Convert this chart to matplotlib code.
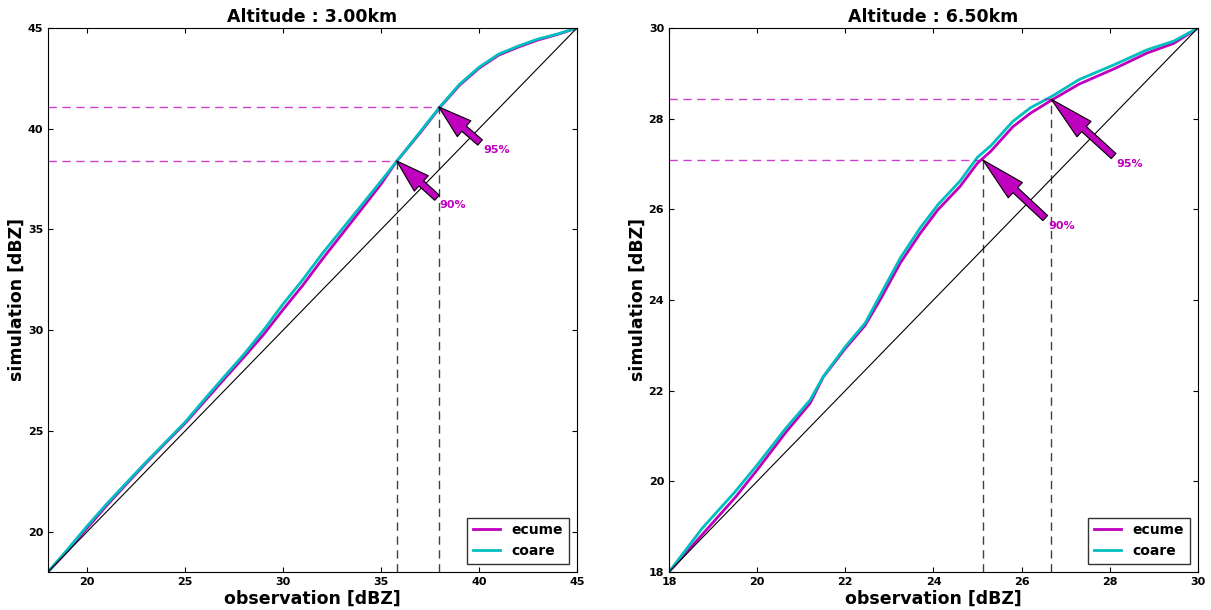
import matplotlib
matplotlib.use('Agg')
import matplotlib.pyplot as plt

# ----------------- Plot config --------------------------------------- #
plt.rc('font', size=8, weight='bold', family='DejaVu Sans')
plt.rc('axes', titlesize=12.5, titleweight='bold', labelsize=12.5, labelweight='bold')
plt.rc('xtick', direction='in', top=True, labelsize=8)
plt.rc('ytick', direction='in', right=True, labelsize=8)
plt.rc('legend', fontsize=10)

# ----------------- Data ---------------------------------------------- #
# Altitude 3.00 km
obs_3km = [18.0, 19.0, 20.0, 21.0, 22.0, 23.0, 24.0, 25.0, 26.0, 27.0, 28.0, 29.0,
           30.0, 31.0, 32.0, 33.0, 34.0, 35.0, 35.8, 37.0, 38.0, 39.0, 40.0, 41.0,
           42.0, 43.0, 44.0, 45.0]
coare_3km = [18.0, 19.12, 20.28, 21.38, 22.42, 23.45, 24.44, 25.44, 26.58, 27.70, 28.80,
             30.00, 31.30, 32.50, 33.80, 35.00, 36.20, 37.40, 38.38, 39.85, 41.08, 42.20,
             43.05, 43.70, 44.10, 44.45, 44.70, 45.0]
ecume_3km = [18.0, 19.05, 20.18, 21.30, 22.36, 23.40, 24.40, 25.38, 26.48, 27.58, 28.66,
             29.78, 31.02, 32.22, 33.52, 34.76, 36.00, 37.25, 38.38, 39.80, 41.05, 42.15,
             43.00, 43.65, 44.05, 44.40, 44.68, 45.0]
pct_obs_3km = [35.8, 37.95]
pct_sim_3km = [38.4, 41.08]
pct_txt_3km = [(38.0, 36.45), (40.2, 39.2)]

# Altitude 6.50 km
obs_6km = [18.0, 18.75, 19.5, 20.0, 20.65, 21.2, 21.5, 22.0, 22.45, 22.8, 23.25, 23.7,
           24.1, 24.6, 25.0, 25.3, 25.8, 26.2, 26.7, 27.3, 28.1, 28.85, 29.45, 30.0]
coare_6km = [18.0, 18.96, 19.77, 20.36, 21.17, 21.79, 22.31, 22.97, 23.49, 24.12, 24.93,
             25.59, 26.10, 26.62, 27.15, 27.40, 27.94, 28.24, 28.50, 28.86, 29.19, 29.52,
             29.71, 30.0]
ecume_6km = [18.0, 18.82, 19.64, 20.25, 21.08, 21.72, 22.30, 22.93, 23.44, 24.02, 24.82,
             25.47, 25.99, 26.50, 27.02, 27.28, 27.82, 28.12, 28.42, 28.76, 29.10, 29.45,
             29.66, 30.0]
pct_obs_6km = [25.12, 26.67]
pct_sim_6km = [27.09, 28.43]
pct_txt_6km = [(26.6, 25.75), (28.15, 27.12)]

pct_labels = ['90%', '95%']


def qq_panel(ax, obs, ecume, coare, lim, ticks, pct_obs, pct_sim, pct_txt, title,
             head_len=18):
    """Draw one quantile-quantile panel."""
    ax.plot(obs, ecume, color='m', lw=2, label='ecume')
    ax.plot(obs, coare, color='c', lw=2, label='coare')
    ax.plot(lim, lim, color='k', lw=0.8)

    for xo, ys, xyt, lab in zip(pct_obs, pct_sim, pct_txt, pct_labels):
        ax.plot([lim[0], xo], [ys, ys], color='m', alpha=0.75, lw=1, dashes=(6, 4))
        ax.plot([xo, xo], [lim[0], ys], color='k', alpha=0.75, lw=1, dashes=(6, 4))
        ax.annotate(lab, xy=(xo, ys), xytext=xyt, color='m', fontsize=8,
                    fontweight='bold', ha='left', va='top',
                    arrowprops=dict(facecolor='m', edgecolor='k', lw=0.8,
                                    width=5, headwidth=15, headlength=head_len,
                                    shrink=0.0))

    ax.set_xlim(lim)
    ax.set_ylim(lim)
    ax.set_xticks(ticks)
    ax.set_yticks(ticks)
    ax.set_title(title, pad=4)
    ax.set_xlabel('observation [dBZ]', labelpad=2)
    ax.set_ylabel('simulation [dBZ]', labelpad=1)
    leg = ax.legend(loc='lower right', fancybox=False, edgecolor='k',
                    handlelength=2, borderaxespad=0.6)
    leg.get_frame().set_linewidth(1.0)
    for t in leg.get_texts():
        t.set_fontweight('bold')


fig = plt.figure(figsize=(12.11, 6.10), dpi=100)
ax1 = fig.add_axes([0.0396, 0.0623, 0.4368, 0.8918])
ax2 = fig.add_axes([0.5524, 0.0623, 0.4368, 0.8918])

qq_panel(ax1, obs_3km, ecume_3km, coare_3km, [18, 45], [20, 25, 30, 35, 40, 45],
         pct_obs_3km, pct_sim_3km, pct_txt_3km, 'Altitude : 3.00km', head_len=24)
qq_panel(ax2, obs_6km, ecume_6km, coare_6km, [18, 30], [18, 20, 22, 24, 26, 28, 30],
         pct_obs_6km, pct_sim_6km, pct_txt_6km, 'Altitude : 6.50km', head_len=32)

fig.savefig('out.png', dpi=100)
